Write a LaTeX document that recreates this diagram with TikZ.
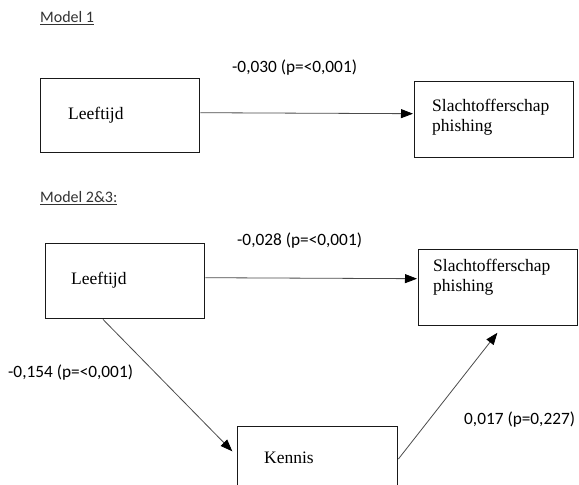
\documentclass[tikz,border=0pt]{standalone}
\usepackage{fontspec}
\setmainfont{Liberation Serif}
\newfontfamily\calfont{Carlito}
\usetikzlibrary{arrows.meta}
\begin{document}
\begin{tikzpicture}[x=1pt,y=-1pt,
  boxnode/.style={draw=black!90,line width=1.4pt,rectangle,inner sep=0pt,anchor=north west},
  boxtext/.style={inner sep=0pt,anchor=west,font=\fontsize{17.5}{19.5}\selectfont,align=left,text=black},
  coef/.style={inner sep=0pt,anchor=west,font=\calfont\fontsize{17.3}{20}\selectfont,text=black},
  title/.style={inner sep=0pt,anchor=west,font=\calfont\fontsize{16}{19}\selectfont,text=black!80},
  arr/.style={draw=black!70,line width=0.8pt,-{Triangle[length=12pt,width=9pt,color=black]},shorten >=1pt}
]
\useasboundingbox (0,0) rectangle (579,485);
\clip (0,0) rectangle (579,485);
\fill[white] (0,0) rectangle (579,485);

% Model 1
\node[title] (t1) at (40,18) {\underline{Model 1}};
\node[boxnode,minimum width=159pt,minimum height=74pt] (b1) at (40,78) {};
\node[boxtext] (x1) at (68,115) {Leeftijd};
\node[boxnode,minimum width=159pt,minimum height=76pt] (b2) at (414,81) {};
\node[boxtext] (x2) at (432,117) {Slachtofferschap\\phishing};
\node[coef] (c1) at (232,68) {-0,030 (p=<0,001)};
\draw[arr] ([yshift=3pt]b1.east) -- ([yshift=6pt]b2.west);

% Model 2&3
\node[title] (t2) at (40,198) {\underline{Model 2\&3:}};
\node[boxnode,minimum width=159pt,minimum height=75pt] (b3) at (45,243) {};
\node[boxtext] (x3) at (71,280) {Leeftijd};
\node[boxnode,minimum width=159pt,minimum height=76pt] (b4) at (418,249) {};
\node[boxtext] (x4) at (433,277) {Slachtofferschap\\phishing};
\node[boxnode,minimum width=160pt,minimum height=80pt] (b5) at (237,426) {};
\node[boxtext] (x5) at (264,458) {Kennis};
\node[coef] (c2) at (237,241) {-0,028 (p=<0,001)};
\node[coef] (c3) at (8,373) {-0,154 (p=<0,001)};
\node[coef] (c4) at (464,420) {0,017 (p=0,227)};
\coordinate (e3) at (233,452);
\coordinate (e4) at (498,332);
\draw[arr] ([yshift=3.5pt]b3.east) -- ([yshift=9pt]b4.west);
\draw[arr] ([xshift=58pt]b3.south west) -- (e3);
\draw[arr] ([yshift=-33pt]b5.north east) -- (e4);
\end{tikzpicture}
\end{document}
